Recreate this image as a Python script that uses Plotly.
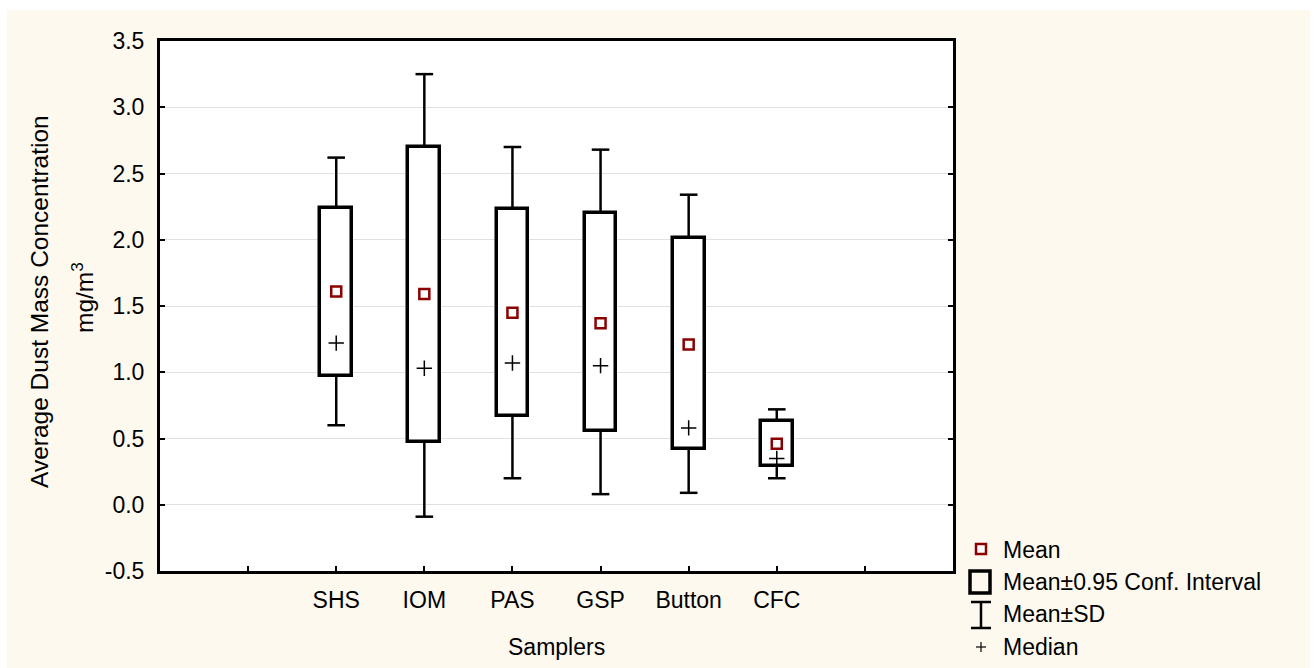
import plotly.graph_objects as go

# ---- data ----
samplers = ["SHS", "IOM", "PAS", "GSP", "Button", "CFC"]
mean_vals = [1.61, 1.59, 1.45, 1.37, 1.21, 0.46]
median_vals = [1.22, 1.03, 1.07, 1.05, 0.58, 0.35]
ci_low = [0.97, 0.47, 0.67, 0.56, 0.42, 0.29]
ci_high = [2.24, 2.70, 2.23, 2.20, 2.01, 0.63]
sd_low = [0.60, -0.09, 0.20, 0.08, 0.09, 0.20]
sd_high = [2.62, 3.25, 2.70, 2.68, 2.34, 0.72]
y_ticks = [-0.5, 0.0, 0.5, 1.0, 1.5, 2.0, 2.5, 3.0, 3.5]

legend_labels = ["Mean", "Mean±0.95 Conf. Interval", "Mean±SD", "Median"]

# ---- layout geometry ----
W, H = 1315, 668
L, R, T, B = 160, 953, 41, 571
FONT = "Arial, Liberation Sans, sans-serif"
FS = 23
CREAM = "#FEF9EF"
DARKRED = "#8B0000"


def px(xp):
    return (xp - L) / (R - L)


def py(yp):
    return (B - yp) / (B - T)


x_pos = list(range(1, len(samplers) + 1))
cap = 0.1

fig = go.Figure()

# confidence-interval boxes
fig.add_trace(go.Bar(
    x=x_pos, base=ci_low,
    y=[h - l for h, l in zip(ci_high, ci_low)],
    width=0.36,
    marker=dict(color="white", line=dict(color="black", width=3.5)),
    showlegend=False, hoverinfo="skip",
))

# SD whiskers (from box edge to SD end, with caps)
wx, wy = [], []
for xi, lo, hi, slo, shi in zip(x_pos, ci_low, ci_high, sd_low, sd_high):
    wx += [xi, xi, None, xi - cap, xi + cap, None, xi, xi, None, xi - cap, xi + cap, None]
    wy += [hi, shi, None, shi, shi, None, lo, slo, None, slo, slo, None]
fig.add_trace(go.Scatter(
    x=wx, y=wy, mode="lines",
    line=dict(color="black", width=2.5),
    showlegend=False, hoverinfo="skip",
))

# means
fig.add_trace(go.Scatter(
    x=x_pos, y=mean_vals, mode="markers",
    marker=dict(symbol="square", size=10, color="white",
                line=dict(color=DARKRED, width=2.5)),
    showlegend=False,
))

# medians
fig.add_trace(go.Scatter(
    x=x_pos, y=median_vals, mode="markers",
    marker=dict(symbol="cross-thin", size=11,
                line=dict(color="black", width=1.5)),
    showlegend=False,
))

shapes = [
    # cream page background with thin white border
    dict(type="rect", xref="paper", yref="paper",
         x0=px(7), x1=px(1310), y0=py(668), y1=py(10),
         fillcolor=CREAM, line=dict(width=0), layer="below"),
    # white plot area
    dict(type="rect", xref="paper", yref="paper",
         x0=0, x1=1, y0=0, y1=1,
         fillcolor="white", line=dict(width=0), layer="below"),
    # legend: mean symbol
    dict(type="rect", xref="paper", yref="paper",
         x0=px(976), x1=px(986), y0=py(554), y1=py(544),
         line=dict(color=DARKRED, width=2.5), fillcolor="white"),
    # legend: CI box
    dict(type="rect", xref="paper", yref="paper",
         x0=px(970), x1=px(990), y0=py(593), y1=py(571),
         line=dict(color="black", width=3.5)),
    # legend: SD I-beam
    dict(type="line", xref="paper", yref="paper",
         x0=px(981), x1=px(981), y0=py(628), y1=py(602),
         line=dict(color="black", width=2.5)),
    dict(type="line", xref="paper", yref="paper",
         x0=px(971), x1=px(991), y0=py(602), y1=py(602),
         line=dict(color="black", width=2.5)),
    dict(type="line", xref="paper", yref="paper",
         x0=px(971), x1=px(991), y0=py(628), y1=py(628),
         line=dict(color="black", width=2.5)),
    # legend: median cross
    dict(type="line", xref="paper", yref="paper",
         x0=px(976), x1=px(986), y0=py(647), y1=py(647),
         line=dict(color="black", width=1.2)),
    dict(type="line", xref="paper", yref="paper",
         x0=px(981), x1=px(981), y0=py(642), y1=py(652),
         line=dict(color="black", width=1.2)),
]

annotations = []
for lab, yc in zip(legend_labels, [550, 582, 614, 647]):
    annotations.append(dict(
        text=lab, xref="paper", yref="paper", x=px(1001), y=py(yc),
        xanchor="left", yanchor="middle", showarrow=False,
        font=dict(family=FONT, size=FS, color="black"),
    ))
annotations.append(dict(
    text="Samplers", xref="paper", yref="paper", x=0.5, y=py(647),
    xanchor="center", yanchor="middle", showarrow=False,
    font=dict(family=FONT, size=FS, color="black"),
))
annotations.append(dict(
    text="Average Dust Mass Concentration", xref="paper", yref="paper",
    x=px(39), y=py(302), xanchor="center", yanchor="middle", textangle=-90,
    showarrow=False, font=dict(family=FONT, size=24.5, color="black"),
))
annotations.append(dict(
    text="mg/m<sup>3</sup>", xref="paper", yref="paper",
    x=px(82), y=py(298), xanchor="center", yanchor="middle", textangle=-90,
    showarrow=False, font=dict(family=FONT, size=24.5, color="black"),
))

fig.update_layout(
    width=W, height=H,
    margin=dict(l=L, r=W - R, t=T, b=H - B, pad=0),
    paper_bgcolor="white",
    plot_bgcolor="rgba(0,0,0,0)",
    font=dict(family=FONT, size=FS, color="black"),
    shapes=shapes,
    annotations=annotations,
    showlegend=False,
    bargap=0,
)

fig.update_xaxes(
    range=[-1, 8],
    tickmode="array",
    tickvals=x_pos,
    ticktext=samplers,
    ticks="inside", ticklen=5, tickwidth=2, tickcolor="black",
    minor=dict(tick0=0, dtick=1, ticks="inside", ticklen=5, tickwidth=2,
               tickcolor="black", showgrid=False),
    showline=True, linewidth=3, linecolor="black", mirror=True,
    showgrid=False, zeroline=False,
    tickfont=dict(family=FONT, size=FS, color="black"),
    ticklabelstandoff=6,
)

fig.update_yaxes(
    range=[-0.5, 3.5],
    tickmode="array",
    tickvals=y_ticks,
    ticktext=[f"{v:.1f}" for v in y_ticks],
    ticks="inside", ticklen=5, tickwidth=2, tickcolor="black",
    showline=True, linewidth=3, linecolor="black", mirror="ticks",
    showgrid=True, gridcolor="#E0E0E0", gridwidth=1,
    zeroline=False,
    tickfont=dict(family=FONT, size=FS, color="black"),
    ticklabelstandoff=8,
)

fig.write_html(
    "out.html",
    config={"displayModeBar": False},
    post_script="document.body.style.margin='0';document.body.style.padding='0';",
)
